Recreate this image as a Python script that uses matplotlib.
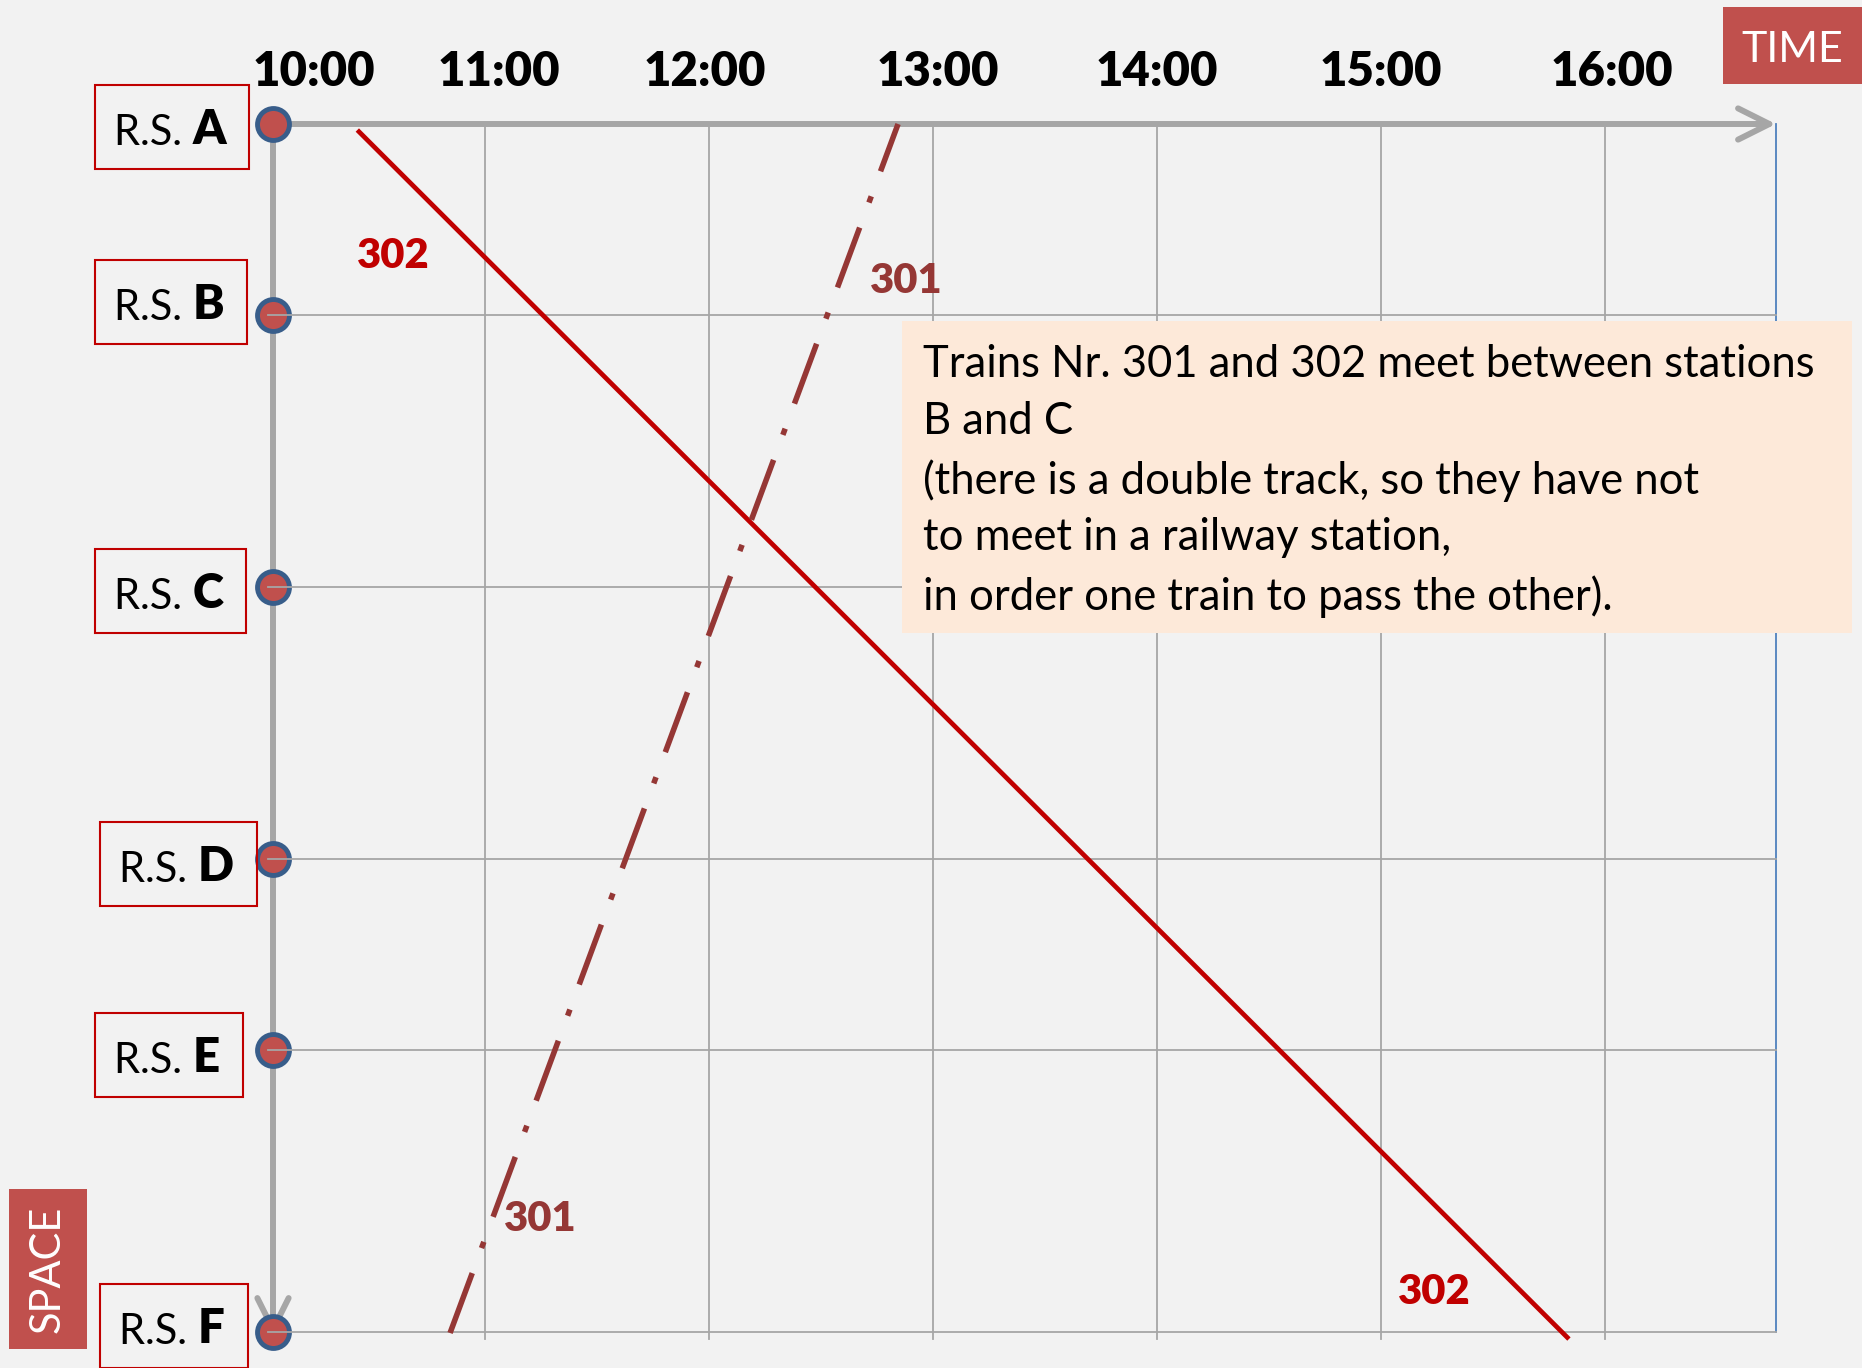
import matplotlib
matplotlib.use('Agg')
import matplotlib.pyplot as plt
from matplotlib.patches import Rectangle

plt.rcParams['font.family'] = ['Lato', 'DejaVu Sans']

# --- data -------------------------------------------------------------
stations = ['A', 'B', 'C', 'D', 'E', 'F']
station_km = [0, 19, 46, 73, 92, 120]          # position along the line
hours = [10, 11, 12, 13, 14, 15, 16]
hour_labels = ['10:00', '11:00', '12:00', '13:00', '14:00', '15:00', '16:00']

# train 302 runs A -> F, train 301 runs F -> A (time in hours, km)
t302 = [10.43, 15.839]
d302 = [0.6, 120.7]
t301 = [10.844, 12.844]
d301 = [120.1, 0.0]

note = ("Trains Nr. 301 and 302 meet between stations\n"
        "B and C\n"
        "(there is a double track, so they have not\n"
        "to meet in a railway station,\n"
        "in order one train to pass the other).")

# --- layout (pixels of the 1862x1368 picture) -------------------------
W, H = 1862, 1368
X10, PX_H = 261, 224          # x pixel of 10:00, pixels per hour
Y0, PX_KM = 124, 1208 / 120   # y pixel of station A, pixels per km


def hx(px):
    return 10 + (px - X10) / PX_H


def ky(px):
    return (px - Y0) / PX_KM


BG = '#f2f2f2'
GRID = '#a6a6a6'
RED = '#c00000'
DARK = '#953735'
ACC = '#c0504d'
HEAVY = 'heavy'

fig = plt.figure(figsize=(W / 100, H / 100), dpi=100, facecolor=BG)
ax = fig.add_axes([0, 0, 1, 1])
ax.set_facecolor(BG)
ax.set_xlim(hx(0), hx(W))
ax.set_ylim(ky(H), ky(0))
ax.axis('off')

x_axis = hx(273)
x_end = hx(1776)
km_end = ky(1339)

# grid
for h in hours[1:]:
    ax.plot([h, h], [0, km_end], color=GRID, lw=1.3, zorder=1)
for d in station_km[1:]:
    ax.plot([hx(268), x_end], [d, d], color=GRID, lw=1.3, zorder=4)
ax.plot([x_end, x_end], [0, station_km[-1]], color='#4f81bd', lw=1.3, zorder=1)

# time / space axes with open arrow heads
arrow = dict(arrowstyle='->,head_length=0.9,head_width=0.45', color=GRID, lw=4.3,
             mutation_scale=25, shrinkA=0, shrinkB=0, capstyle='round', joinstyle='round')
ax.annotate('', xy=(x_end, 0), xytext=(x_axis, 0), arrowprops=arrow, zorder=2)
ax.annotate('', xy=(x_axis, ky(1336)), xytext=(x_axis, 0), arrowprops=arrow, zorder=2)

# stations
ax.plot([x_axis] * len(station_km), station_km, 'o', ms=23, mfc=ACC, mec='#385d8a',
        mew=3.5, zorder=3)

# trains
ax.plot(t302, d302, color=RED, lw=3.4, solid_capstyle='butt', zorder=6)
ax.plot(t301, d301, color=DARK, lw=4.0, linestyle=(0, (11.5, 4.8, 1.2, 4.8)),
        dash_capstyle='butt', zorder=6)

lab = dict(fontsize=30, fontweight=HEAVY, ha='center', va='baseline', zorder=7)
ax.text(hx(393), ky(268), '302', color=RED, **lab)
ax.text(hx(1434), ky(1304), '302', color=RED, **lab)
ax.text(hx(906), ky(293), '301', color=DARK, **lab)
ax.text(hx(540), ky(1231), '301', color=DARK, **lab)

# hour labels
label_x = [hx(314), hx(499), hx(705), hx(938), 14, 15, hx(1612)]
for x, s in zip(label_x, hour_labels):
    ax.text(x, ky(86), s, fontsize=34, fontweight=HEAVY, ha='center', va='baseline')

# station labels
label_base = [145, 320, 609, 882, 1073, 1344]
label_left = [117, 117, 117, 122, 117, 122]
pairs = []
for s, b, l in zip(stations, label_base, label_left):
    t1 = ax.text(hx(l - 3), ky(b), 'R.S. ', fontsize=30, ha='left', va='baseline')
    t2 = ax.annotate(s, xy=(1, 0), xycoords=t1, fontsize=34, fontweight=HEAVY,
                     ha='left', va='bottom')
    pairs.append((t1, t2, b))

fig.canvas.draw()
r = fig.canvas.get_renderer()
for t1, t2, b in pairs:
    x0 = t1.get_window_extent(r).x0 - 19
    x1 = t2.get_window_extent(r).x1 + 23
    ax.add_patch(Rectangle((hx(x0), ky(b - 60)), (x1 - x0) / PX_H, 84 / PX_KM,
                           fill=False, ec=RED, lw=1.5, zorder=5))

# note box
ax.add_patch(Rectangle((hx(902), ky(321)), (1852 - 902) / PX_H, (633 - 321) / PX_KM,
                       fc='#fde9d9', ec='none', zorder=5))
ax.text(hx(923), ky(481), note, fontsize=31.4, ha='left', va='center',
        linespacing=1.48, zorder=6)

# TIME / SPACE tags
fig.patches.append(Rectangle((1723 / W, 1 - 84 / H), (W - 1723) / W, 77 / H,
                             transform=fig.transFigure, fc=ACC, ec='none'))
fig.text(1792 / W, 1 - 47 / H, 'TIME', color='white', fontsize=31, ha='center',
         va='center_baseline')
fig.patches.append(Rectangle((9 / W, 1 - 1349 / H), 78 / W, 160 / H,
                             transform=fig.transFigure, fc=ACC, ec='none'))
fig.text(48 / W, 1 - 1269 / H, 'SPACE', color='white', fontsize=30, ha='center',
         va='center', rotation=90)

fig.savefig('out.png', dpi=100, facecolor=BG)
